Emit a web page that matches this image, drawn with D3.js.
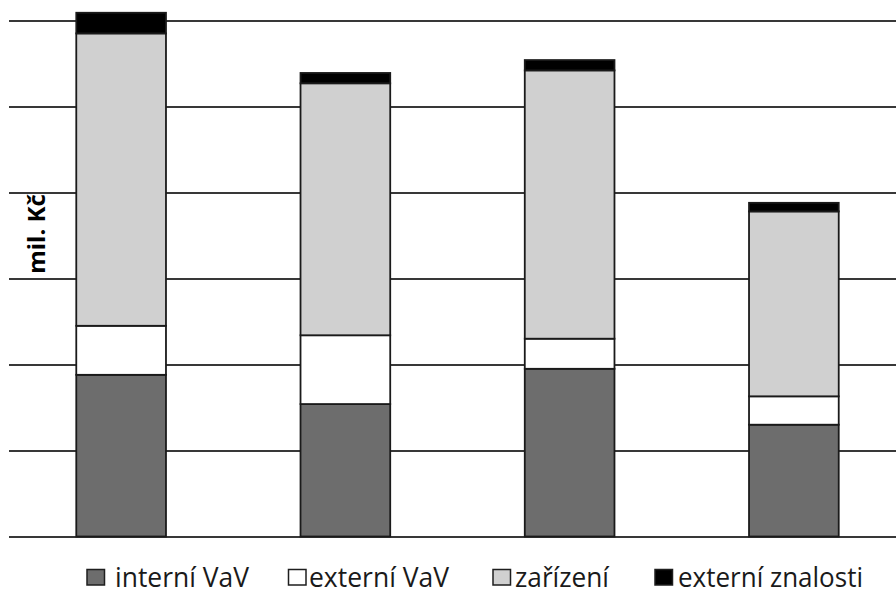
<!DOCTYPE html>
<html>
<head>
<meta charset="utf-8">
<script src="https://cdn.jsdelivr.net/npm/d3@7"></script>
<style>
  html, body { margin: 0; padding: 0; background: #fff; }
  svg { display: block; }
</style>
</head>
<body>
<svg id="chart" width="896" height="589"></svg>
<script>
// Categories (x labels are not shown on the chart)
const categories = ["1", "2", "3", "4"];

// Stacked series, mil. Kč
const seriesNames = ["interní VaV", "externí VaV", "zařízení", "externí znalosti"];
const interniVaV = [188, 154, 195, 130];
const externiVaV = [57, 80, 35, 33];
const zarizeni = [340, 293, 312, 215];
const externiZnalosti = [24, 12, 12, 10];

// Gridline values
const gridTicks = [0, 100, 200, 300, 400, 500, 600];

const colors = ["#6d6d6d", "#ffffff", "#d0d0d0", "#000000"];
const seriesArrays = [interniVaV, externiVaV, zarizeni, externiZnalosti];

const rows = categories.map((c, i) => {
  const r = { cat: c };
  seriesNames.forEach((s, k) => { r[s] = seriesArrays[k][i]; });
  return r;
});

const svg = d3.select("#chart");

const x = d3.scaleBand()
  .domain(categories)
  .range([9, 906])
  .paddingInner(0.6)
  .paddingOuter(0.3);

const y = d3.scaleLinear()
  .domain([0, 600])
  .range([536.5, 20.5]);

// Horizontal gridlines
const grid = svg.append("g")
  .attr("transform", "translate(9,0)")
  .call(d3.axisLeft(y).tickValues(gridTicks).tickSize(-897).tickFormat(""));
grid.select(".domain").remove();
grid.selectAll(".tick line")
  .attr("stroke", "#383838")
  .attr("stroke-width", 1.9);

// Stacked bars
const stack = d3.stack().keys(seriesNames);
const layers = stack(rows);

svg.append("g").selectAll("g")
  .data(layers)
  .join("g")
  .attr("fill", (d, i) => colors[i])
  .selectAll("rect")
  .data(d => d)
  .join("rect")
  .attr("x", d => x(d.data.cat))
  .attr("width", x.bandwidth())
  .attr("y", d => y(d[1]))
  .attr("height", d => y(d[0]) - y(d[1]))
  .attr("stroke", "#1a1a1a")
  .attr("stroke-width", 1.8);

// Axis title
svg.append("text")
  .attr("transform", "translate(45,234) rotate(-90)")
  .attr("text-anchor", "middle")
  .attr("font-family", "'Open Sans', sans-serif")
  .attr("font-weight", "bold")
  .attr("font-size", 24)
  .attr("fill", "#000")
  .text("mil. Kč");

// Legend layout: swatch left edge, label left edge, label width
const swatchX = [87, 288.5, 493, 655];
const labelX = [115, 309, 515, 678];
const labelW = [134, 140, 94, 185];

const legend = svg.append("g").selectAll("g")
  .data(seriesNames)
  .join("g");

legend.append("rect")
  .attr("x", (d, i) => swatchX[i])
  .attr("y", 569.5)
  .attr("width", 17.5)
  .attr("height", 15.5)
  .attr("fill", (d, i) => colors[i])
  .attr("stroke", "#1e1e1e")
  .attr("stroke-width", 1.5);

legend.append("text")
  .attr("x", (d, i) => labelX[i])
  .attr("y", 586.5)
  .attr("font-family", "'Open Sans', sans-serif")
  .attr("font-size", 27)
  .attr("textLength", (d, i) => labelW[i])
  .attr("lengthAdjust", "spacingAndGlyphs")
  .attr("fill", "#1a1a1a")
  .text(d => d);
</script>
</body>
</html>
